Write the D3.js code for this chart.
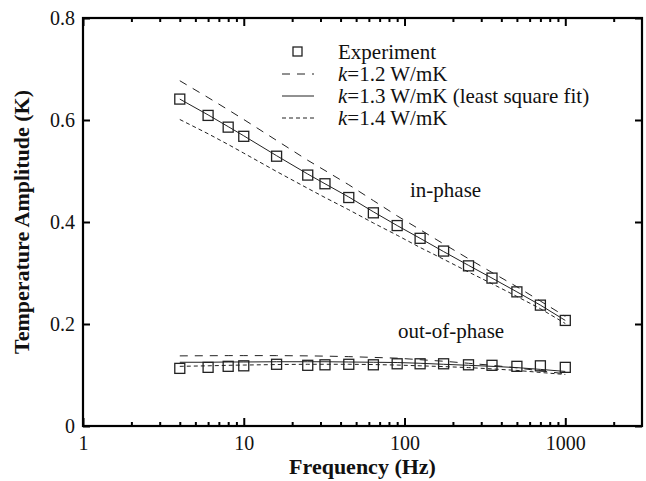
<!DOCTYPE html>
<html><head><meta charset="utf-8">
<script src="https://cdn.jsdelivr.net/npm/d3@7"></script>
<style>
body{margin:0;background:#fff;}
text{font-family:"Liberation Serif","Times New Roman",serif;fill:#111;}
</style></head>
<body><svg id="c" width="646" height="481"></svg>
<script>
const freq = [4, 6, 8, 10, 16, 25, 32, 45, 64, 90, 125, 175, 250, 350, 500, 700, 1000];
const expIn = [0.641, 0.609, 0.586, 0.568, 0.529, 0.492, 0.475, 0.448, 0.418, 0.393, 0.368, 0.343, 0.314, 0.290, 0.263, 0.237, 0.207];
const expOut = [0.113, 0.115, 0.117, 0.118, 0.121, 0.119, 0.120, 0.121, 0.120, 0.122, 0.122, 0.122, 0.120, 0.119, 0.117, 0.118, 0.115];
const k12In = [0.677, 0.644, 0.620, 0.601, 0.560, 0.521, 0.501, 0.473, 0.442, 0.412, 0.385, 0.357, 0.328, 0.301, 0.273, 0.245, 0.215];
const k13In = [0.641, 0.610, 0.587, 0.569, 0.530, 0.494, 0.475, 0.449, 0.420, 0.393, 0.368, 0.342, 0.315, 0.290, 0.263, 0.237, 0.207];
const k14In = [0.601, 0.573, 0.552, 0.535, 0.499, 0.466, 0.448, 0.424, 0.398, 0.374, 0.350, 0.327, 0.302, 0.279, 0.254, 0.230, 0.201];
const k12Out = [0.1375, 0.1378, 0.138, 0.138, 0.138, 0.1375, 0.137, 0.136, 0.1345, 0.133, 0.130, 0.127, 0.123, 0.119, 0.114, 0.108, 0.1025];
const k13Out = [0.125, 0.125, 0.1255, 0.1255, 0.126, 0.126, 0.126, 0.1255, 0.125, 0.1245, 0.123, 0.121, 0.119, 0.117, 0.1145, 0.111, 0.107];
const k14Out = [0.117, 0.118, 0.119, 0.1195, 0.1205, 0.121, 0.121, 0.121, 0.1205, 0.1195, 0.118, 0.1165, 0.1145, 0.112, 0.109, 0.105, 0.101];
const xMajor = [1, 10, 100, 1000];
const xMinor = [2,3,4,5,6,7,8,9,20,30,40,50,60,70,80,90,200,300,400,500,600,700,800,900,2000];
const yTicks = [0, 0.2, 0.4, 0.6, 0.8];
const legendLabels = ["Experiment", "=1.2 W/mK", "=1.3 W/mK (least square fit)", "=1.4 W/mK"];

const svg = d3.select("#c");
const L = 83, R = 642, T = 18, B = 426;
const x = d3.scaleLog().domain([1, 3000]).range([L, R]);
const y = d3.scaleLinear().domain([0, 0.8]).range([B, T]);

const g = svg.append("g");
const line = d3.line().x((d,i)=>x(freq[i])).y(d=>y(d));
const styles = [
  {data:k12In, dash:"8,7"}, {data:k13In, dash:null}, {data:k14In, dash:"4,3"},
  {data:k12Out, dash:"8,7"}, {data:k13Out, dash:null}, {data:k14Out, dash:"4,3"}
];
styles.forEach(s=>{
  g.append("path").attr("d", line(s.data)).attr("fill","none").attr("stroke","#222")
   .attr("stroke-width",1).attr("stroke-dasharray", s.dash);
});
[expIn, expOut].forEach(arr=>{
  g.selectAll(null).data(arr).enter().append("rect")
   .attr("x",(d,i)=>x(freq[i])-5).attr("y",d=>y(d)-5).attr("width",10).attr("height",10)
   .attr("fill","none").attr("stroke","#222").attr("stroke-width",1.3);
});

// axes with inward ticks
const axB = d3.axisBottom(x).tickValues(xMajor).tickSize(-8).tickPadding(10).tickFormat(d3.format("d"));
const axBm = d3.axisBottom(x).tickValues(xMinor).tickSize(-4).tickFormat("");
const axT = d3.axisTop(x).tickValues(xMajor).tickSize(-8).tickFormat("");
const axTm = d3.axisTop(x).tickValues(xMinor).tickSize(-4).tickFormat("");
const axL = d3.axisLeft(y).tickValues(yTicks).tickSize(-7).tickPadding(8).tickFormat(d=> d===0 ? "0" : d3.format(".1f")(d));
const axR = d3.axisRight(y).tickValues(yTicks).tickSize(-7).tickFormat("");
function style(sel){
  sel.select(".domain").remove();
  sel.selectAll("line").attr("stroke","#000").attr("stroke-width",2);
  sel.selectAll("text").attr("font-family","Liberation Serif").attr("font-size",20).attr("fill","#111");
}
svg.append("g").attr("transform",`translate(0,${B})`).call(axB).call(style);
svg.append("g").attr("transform",`translate(0,${B})`).call(axBm).call(style);
svg.append("g").attr("transform",`translate(0,${T})`).call(axT).call(style);
svg.append("g").attr("transform",`translate(0,${T})`).call(axTm).call(style);
svg.append("g").attr("transform",`translate(${L},0)`).call(axL).call(style);
svg.append("g").attr("transform",`translate(${R},0)`).call(axR).call(style);
svg.append("rect").attr("x",L).attr("y",T).attr("width",R-L).attr("height",B-T)
  .attr("fill","none").attr("stroke","#000").attr("stroke-width",2.2);

// titles
svg.append("text").attr("x",(L+R)/2).attr("y",474).attr("text-anchor","middle")
  .attr("font-weight","bold").attr("font-size",22).text("Frequency (Hz)");
svg.append("text").attr("transform","translate(29,222) rotate(-90)").attr("text-anchor","middle")
  .attr("font-weight","bold").attr("font-size",22).text("Temperature Amplitude (K)");

// annotations
svg.append("text").attr("x",410).attr("y",197).attr("font-size",21).text("in-phase");
svg.append("text").attr("x",398).attr("y",338).attr("font-size",21).text("out-of-phase");

// legend
const rows = [52, 74, 96, 118];
const lg = svg.append("g");
lg.append("rect").attr("x",293).attr("y",rows[0]-5).attr("width",9).attr("height",9)
  .attr("fill","none").attr("stroke","#222").attr("stroke-width",1.3);
[["8,7",1],[null,2],["4,3",3]].forEach(([dash,i])=>{
  lg.append("line").attr("x1",282).attr("x2",314).attr("y1",rows[i]).attr("y2",rows[i])
    .attr("stroke","#222").attr("stroke-width",1).attr("stroke-dasharray",dash);
});
legendLabels.forEach((lab,i)=>{
  const t = lg.append("text").attr("x",338).attr("y",rows[i]+7).attr("font-size",21);
  if(i===0){ t.text(lab); }
  else { t.append("tspan").attr("font-style","italic").text("k"); t.append("tspan").text(lab); }
});
</script></body></html>
